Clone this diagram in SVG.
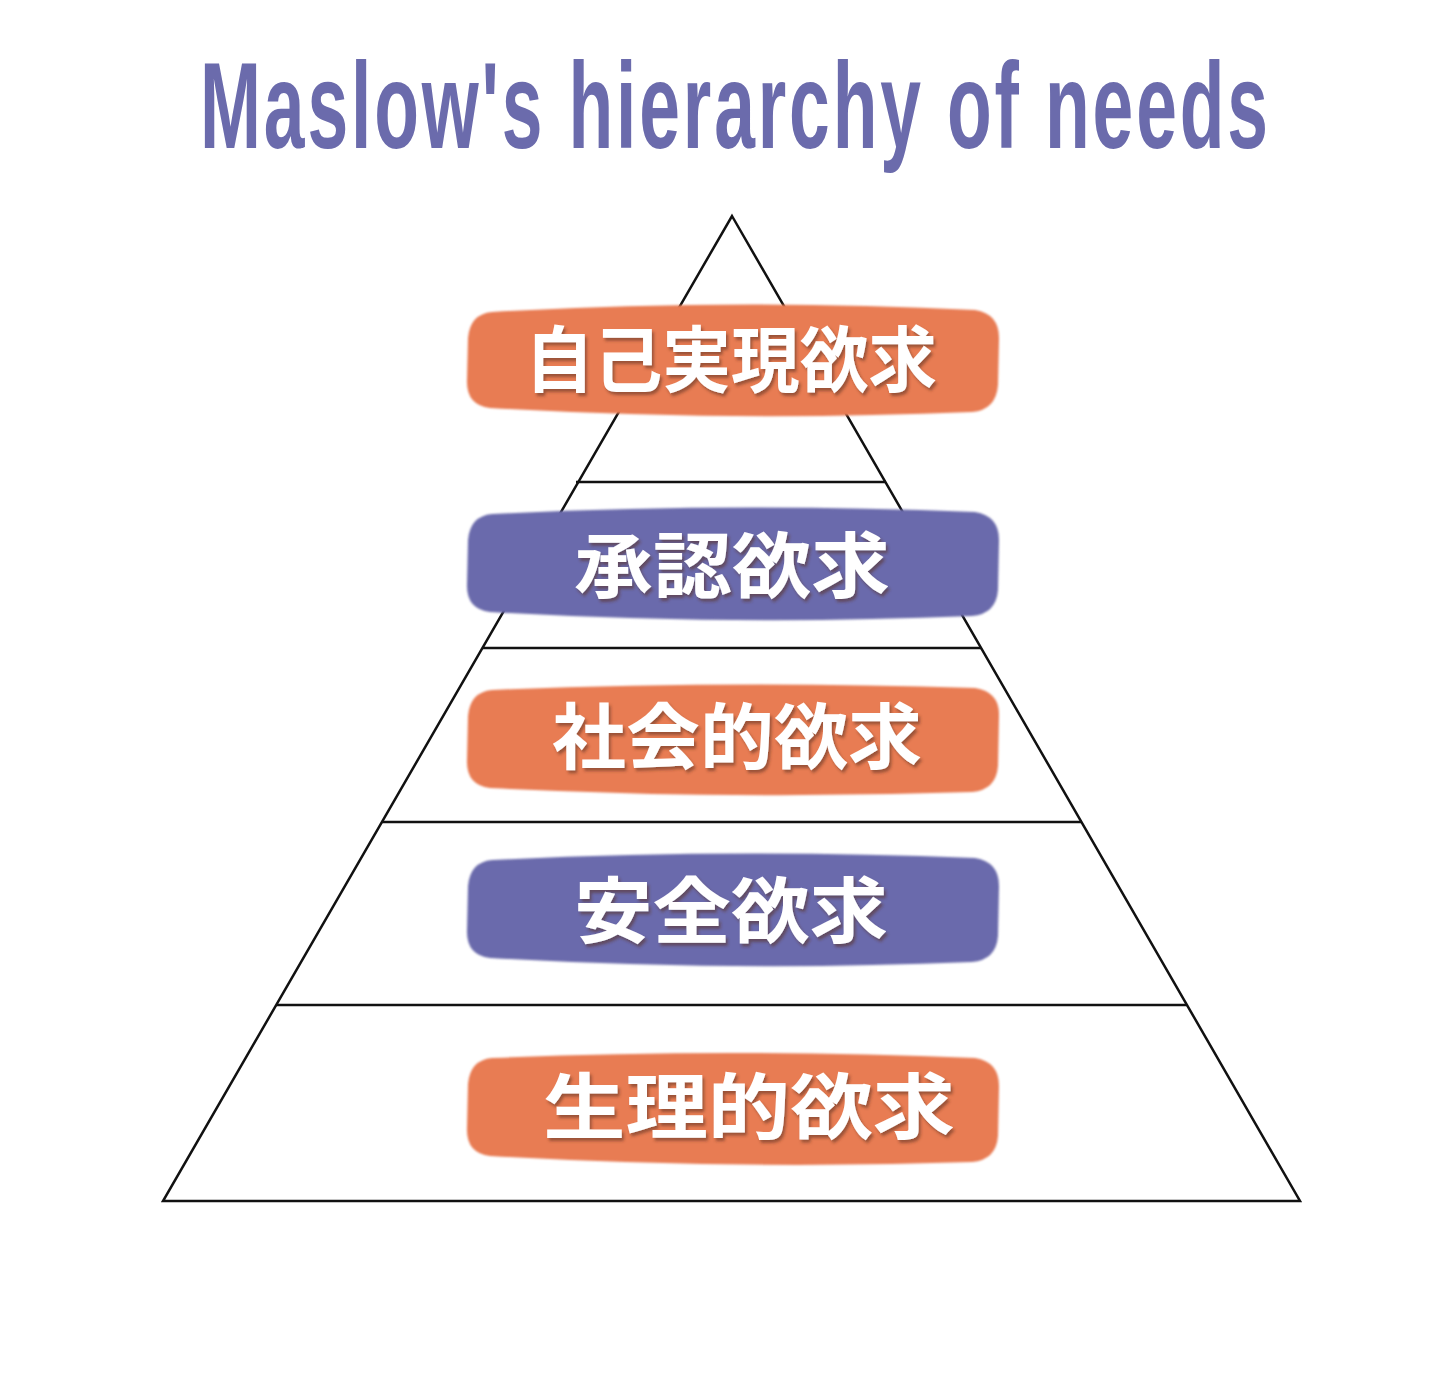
<svg xmlns="http://www.w3.org/2000/svg" width="1440" height="1384" viewBox="0 0 1440 1384">
<style>
.edge{fill:none;stroke:#111;stroke-width:2.5;stroke-linejoin:miter}
.orange{fill:#E87B52}
.purple{fill:#6B6BAC}
.lbl{font-family:"Noto Sans CJK JP","Noto Sans CJK SC",serif;font-weight:700;font-size:72px;fill:#fff;text-anchor:middle;filter:url(#sh)}
.title{font-family:"Liberation Sans",Arial,sans-serif;font-weight:700;font-size:122px;fill:#6B6BAC;text-anchor:middle}
</style>
<defs>
<filter id="sh" x="-10%" y="-10%" width="120%" height="130%">
<feDropShadow dx="2" dy="3" stdDeviation="1.5" flood-color="#5a3020" flood-opacity="0.55"/>
</filter>
<filter id="blur" x="-5%" y="-10%" width="110%" height="120%">
<feGaussianBlur stdDeviation="1.2"/>
</filter>
</defs>
<rect width="1440" height="1384" fill="#fff"/>
<g transform="translate(734,148) scale(0.6,1)">
<text class="title" x="0" y="0" textLength="1780" lengthAdjust="spacing">Maslow's hierarchy of needs</text>
</g>
<g id="connectors">
<path class="edge" d="M732,216 L1300,1201 L163,1201 Z"/>
<line class="edge" x1="576" y1="482" x2="886" y2="482"/>
<line class="edge" x1="482" y1="648" x2="981" y2="648"/>
<line class="edge" x1="382" y1="822" x2="1082" y2="822"/>
<line class="edge" x1="276" y1="1005" x2="1187" y2="1005"/>
</g>
<g id="n1">
<path class="orange" filter="url(#blur)" d="M492,312 Q732,298 975,310 Q1000,314 999,340 L998,385 Q996,410 972,412 Q732,422 490,408 Q466,405 467,380 L468,338 Q470,314 492,312 Z"/>
<text class="lbl" x="731" y="386" textLength="412" lengthAdjust="spacingAndGlyphs">自己実現欲求</text>
</g>
<g id="n2">
<path class="purple" filter="url(#blur)" d="M492,514 Q732,502 975,512 Q1000,516 999,542 L998,590 Q996,614 972,616 Q732,626 490,612 Q466,609 467,584 L468,540 Q470,516 492,514 Z"/>
<text class="lbl" x="732" y="592" textLength="316" lengthAdjust="spacingAndGlyphs">承認欲求</text>
</g>
<g id="n3">
<path class="orange" filter="url(#blur)" d="M492,690 Q732,680 975,688 Q1000,692 999,716 L998,766 Q996,790 972,792 Q732,800 490,788 Q466,785 467,760 L468,716 Q470,692 492,690 Z"/>
<text class="lbl" x="737" y="763" textLength="370" lengthAdjust="spacingAndGlyphs">社会的欲求</text>
</g>
<g id="n4">
<path class="purple" filter="url(#blur)" d="M492,860 Q732,848 975,858 Q1000,862 999,888 L998,936 Q996,960 972,962 Q732,972 490,958 Q466,955 467,930 L468,886 Q470,862 492,860 Z"/>
<text class="lbl" x="731" y="937" textLength="314" lengthAdjust="spacingAndGlyphs">安全欲求</text>
</g>
<g id="n5">
<path class="orange" filter="url(#blur)" d="M492,1058 Q732,1048 975,1058 Q1000,1062 999,1088 L998,1136 Q996,1160 972,1162 Q732,1170 490,1156 Q466,1153 467,1128 L468,1084 Q470,1060 492,1058 Z"/>
<text class="lbl" x="749" y="1133" textLength="412" lengthAdjust="spacingAndGlyphs">生理的欲求</text>
</g>
</svg>
